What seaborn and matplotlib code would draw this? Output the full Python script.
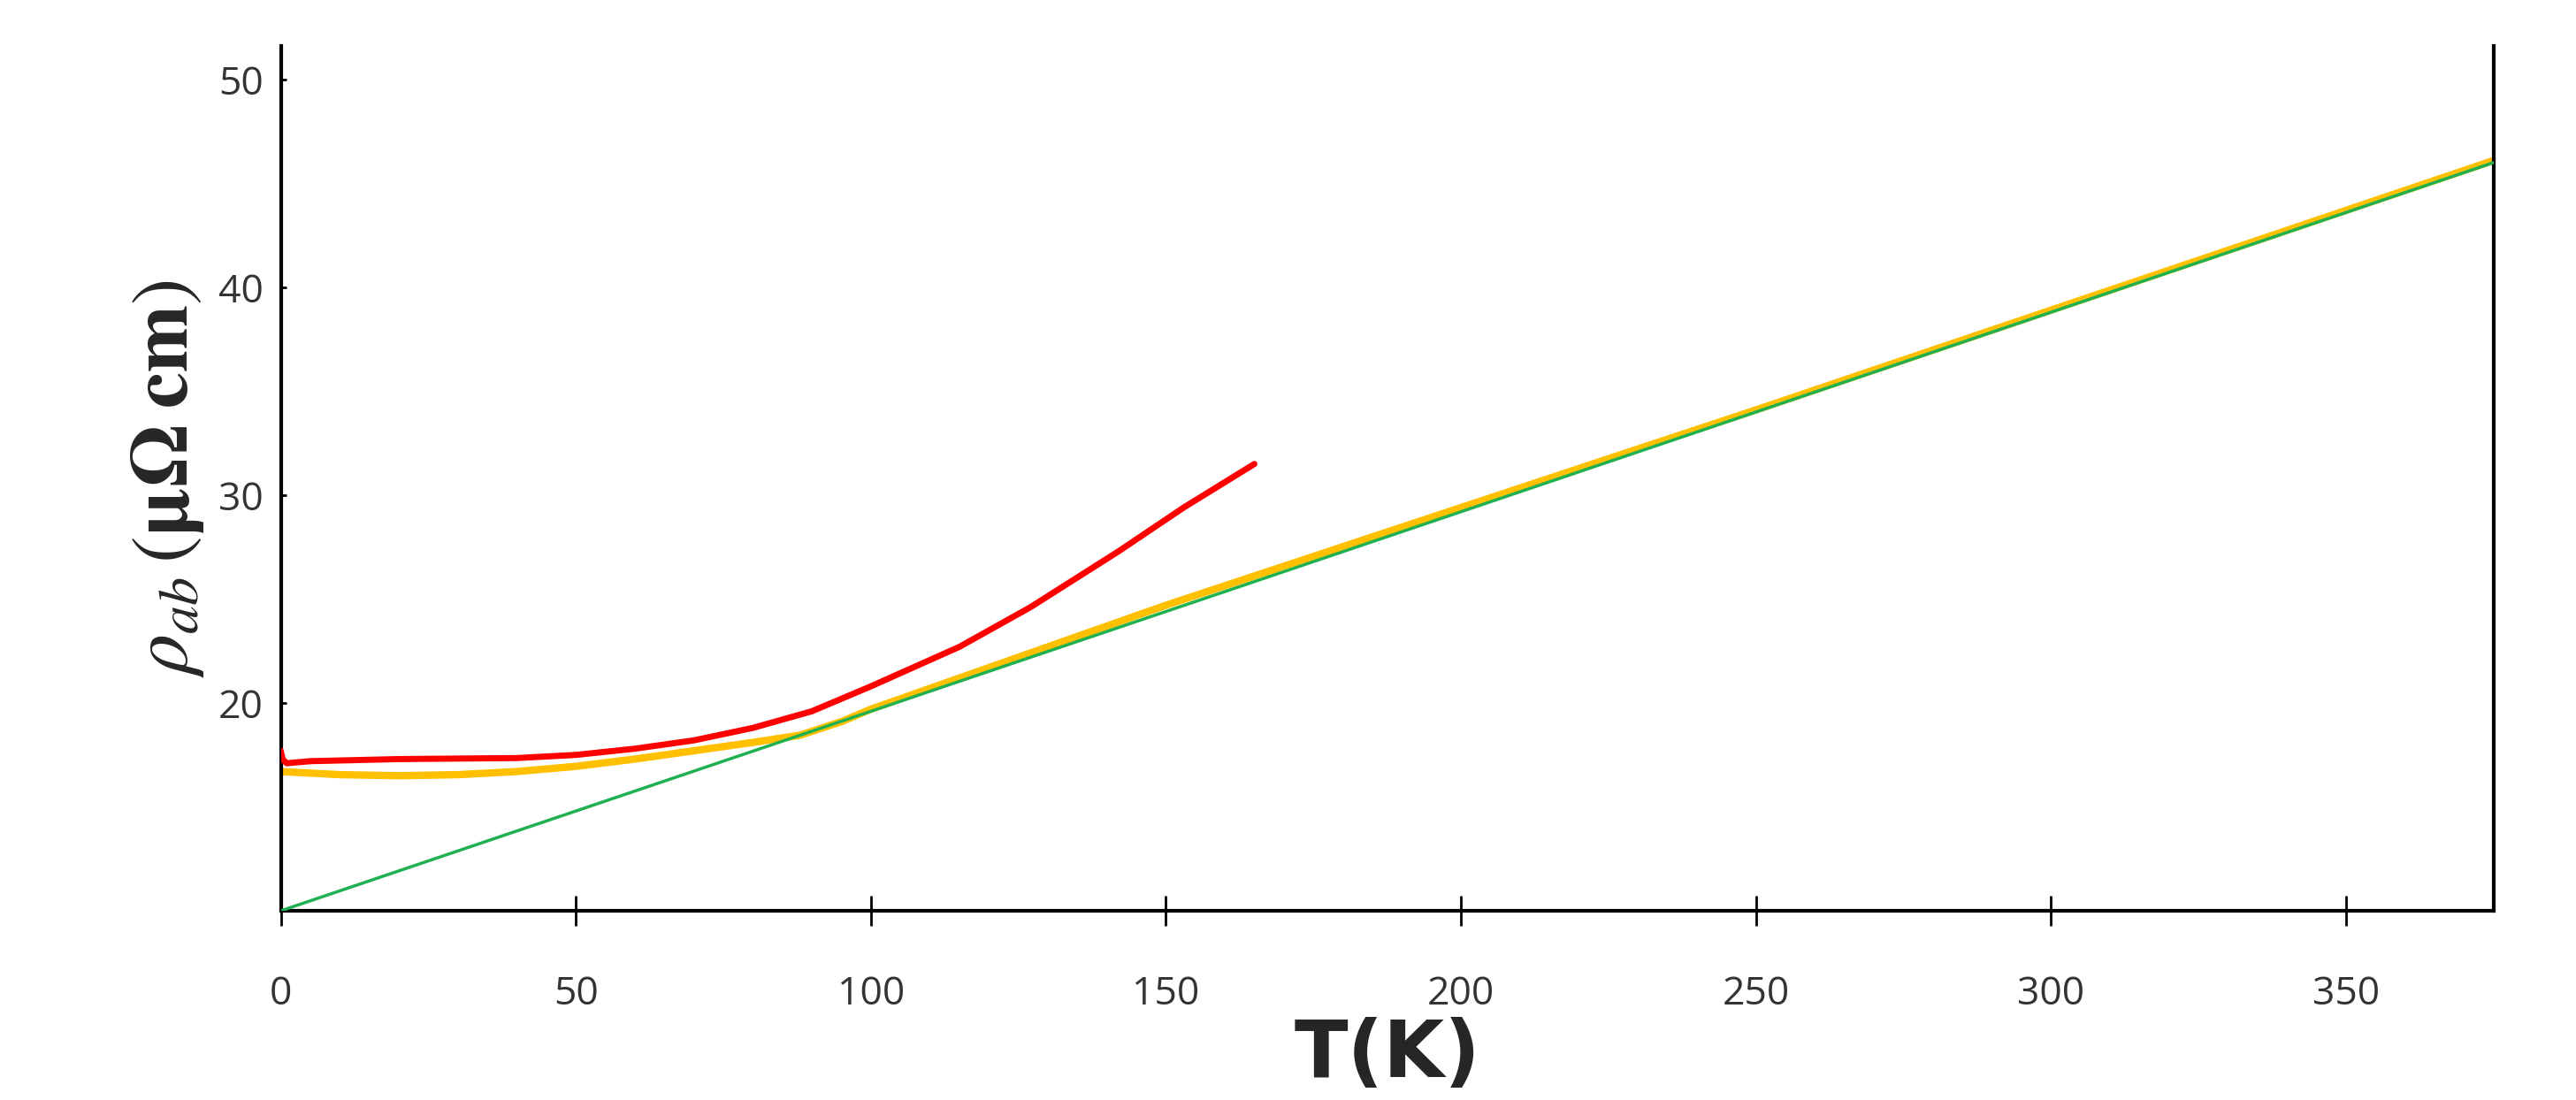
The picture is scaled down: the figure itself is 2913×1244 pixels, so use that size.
import numpy as np
import pandas as pd
import matplotlib
matplotlib.use("Agg")
import matplotlib.pyplot as plt
import seaborn as sns

# Data
T_green = [0, 375]
rho_green = [10.0, 46.0]

T_yellow = [0, 10, 20, 30, 40, 50, 60, 70, 80, 88, 95, 100, 120, 150, 200, 250, 300, 375]
rho_yellow = [16.7, 16.55, 16.5, 16.55, 16.7, 16.95, 17.3, 17.7, 18.1, 18.45, 19.1, 19.7, 21.7, 24.7, 29.4, 34.1, 38.9, 46.1]

T_red = [0, 0.3, 1, 5, 20, 40, 50, 60, 70, 80, 90, 100, 115, 127, 142, 153, 165]
rho_red = [17.7, 17.3, 17.1, 17.2, 17.3, 17.35, 17.5, 17.8, 18.2, 18.8, 19.6, 20.8, 22.7, 24.6, 27.3, 29.4, 31.5]

sns.set_style("white")
plt.rcParams['mathtext.fontset'] = 'stix'

fig = plt.figure(figsize=(29.13, 12.44), dpi=100)
ax = fig.add_axes([0.109, 0.172, 0.859, 0.786])

sns.lineplot(x=T_yellow, y=rho_yellow, ax=ax, color="#ffc000", lw=6, zorder=2)
sns.lineplot(x=T_green, y=rho_green, ax=ax, color="#1fb050", lw=2.5, zorder=3)
sns.lineplot(x=T_red, y=rho_red, ax=ax, color="#ff0000", lw=5, zorder=4)

ax.set_xlim(0, 375)
ax.set_ylim(10, 51.6)
ax.set_xticks([0, 50, 100, 150, 200, 250, 300, 350])
ax.set_yticks([20, 30, 40, 50])
ax.spines['top'].set_visible(False)
for s in ['left', 'bottom', 'right']:
    ax.spines[s].set_color('black')
    ax.spines[s].set_linewidth(3)
ax.tick_params(axis='x', bottom=True, direction='inout', length=24, width=2, color='black',
               pad=40, labelsize=32, labelcolor='#333333')
ax.tick_params(axis='y', left=True, direction='in', length=4, width=2, color='black',
               pad=14, labelsize=32, labelcolor='#333333')
for lab in ax.get_xticklabels() + ax.get_yticklabels():
    lab.set_family('Open Sans')
ax.set_xlabel("T(K)", fontsize=64, fontweight='bold', family='DejaVu Sans', labelpad=2)
ax.set_ylabel(r"$\rho_{ab}\,(\mathbf{\mu\Omega\;cm})$", fontsize=66, labelpad=10)

fig.savefig("out.png", dpi=100)
